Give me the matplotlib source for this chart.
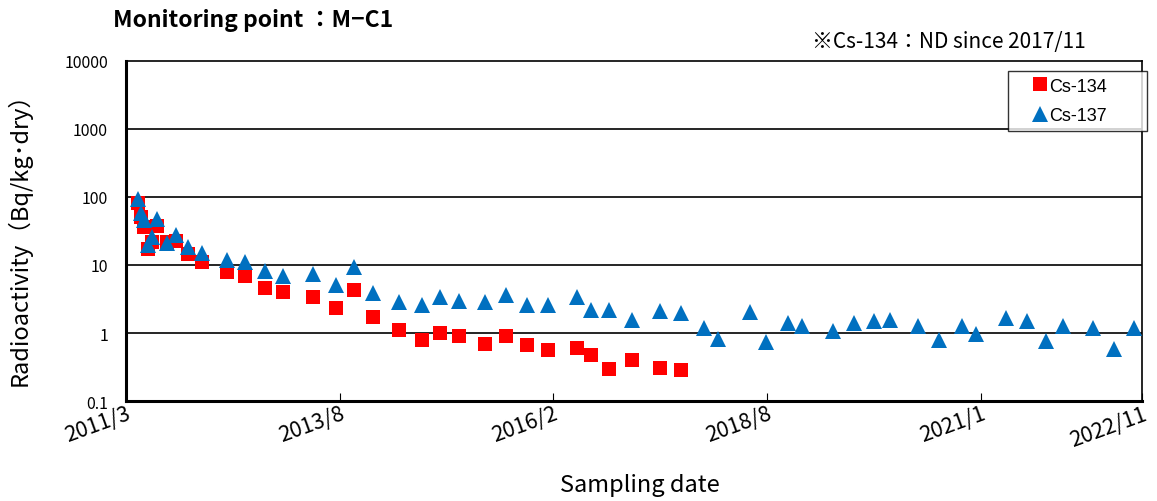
import matplotlib
matplotlib.use("Agg")
import matplotlib.pyplot as plt
import pandas as pd

plt.rcParams['font.family'] = ['Noto Sans CJK JP', 'DejaVu Sans']

cs134_dates = [
    "2011-05-02", "2011-05-13", "2011-05-27", "2011-06-13", "2011-06-27", "2011-07-18",
    "2011-08-29", "2011-10-06", "2011-11-26", "2012-01-26", "2012-05-08", "2012-07-24",
    "2012-10-17", "2013-01-02", "2013-05-08", "2013-08-11", "2013-10-28", "2014-01-16",
    "2014-05-04", "2014-08-08", "2014-10-24", "2015-01-12", "2015-05-03", "2015-07-29",
    "2015-10-26", "2016-01-24", "2016-05-22", "2016-07-20", "2016-10-07", "2017-01-12",
    "2017-05-08", "2017-08-03",
]
cs134_values = [
    81, 50, 36, 17, 21.6, 38,
    21.6, 22.8, 14.5, 11, 8.0, 7.0,
    4.6, 4.05, 3.4, 2.33, 4.3, 1.74,
    1.1, 0.79, 1.0, 0.9, 0.70, 0.89,
    0.67, 0.56, 0.61, 0.48, 0.30, 0.40,
    0.31, 0.29,
]

cs137_dates = cs134_dates + [
    "2017-11-10", "2018-01-06", "2018-05-23", "2018-07-29", "2018-10-31", "2018-12-29",
    "2019-05-06", "2019-08-05", "2019-10-27", "2019-12-31", "2020-04-27", "2020-07-27",
    "2020-11-02", "2020-12-30", "2021-05-04", "2021-08-01", "2021-10-20", "2021-12-29",
    "2022-05-08", "2022-08-01", "2022-10-24",
]
cs137_values = [
    94, 58, 46, 19.7, 26, 47,
    21, 27.6, 18.6, 15, 12, 11,
    8.2, 7.0, 7.4, 5.0, 9.3, 3.9,
    2.83, 2.6, 3.35, 3.0, 2.9, 3.6,
    2.6, 2.6, 3.35, 2.18, 2.18, 1.57,
    2.08, 1.97,
    1.17, 0.82, 2.06, 0.73, 1.39, 1.28,
    1.08, 1.39, 1.49, 1.57, 1.28, 0.80,
    1.28, 0.97, 1.66, 1.49, 0.77, 1.28,
    1.17, 0.58, 1.17,
]

tick_dates = ["2011-03-11", "2013-08-28", "2016-02-14", "2018-08-02", "2021-01-19", "2022-11-29"]
tick_labels = ["2011/3", "2013/8", "2016/2", "2018/8", "2021/1", "2022/11"]
y_ticks = [0.1, 1, 10, 100, 1000, 10000]
y_tick_labels = ["0.1", "1", "10", "100", "1000", "10000"]

fig = plt.figure(figsize=(11.57, 5.02), dpi=100)
ax = fig.add_axes([0.1089, 0.1992, 0.8782, 0.6773])

ax.set_yscale('log')
ax.set_ylim(0.1, 10000)
ax.set_xlim(pd.Timestamp(tick_dates[0]), pd.Timestamp(tick_dates[-1]))

for y in y_ticks[1:-1]:
    ax.axhline(y, color='black', linewidth=1.2, zorder=1)

ax.plot(pd.to_datetime(cs134_dates), cs134_values, linestyle='none', marker='s',
        markersize=9.5, color='#FF0000', markeredgewidth=0, label='Cs-134', zorder=3)
ax.plot(pd.to_datetime(cs137_dates), cs137_values, linestyle='none', marker='^',
        markersize=11, color='#0070C0', markeredgewidth=0, label='Cs-137', zorder=4)

ax.set_yticks(y_ticks)
ax.set_yticklabels(y_tick_labels, fontsize=11.5)
ax.yaxis.set_minor_locator(matplotlib.ticker.NullLocator())
ax.tick_params(axis='y', length=0, pad=13)

ax.set_xticks(pd.to_datetime(tick_dates))
ax.set_xticklabels(tick_labels, fontsize=15.5, rotation=20, ha='right', rotation_mode='anchor')
ax.tick_params(axis='x', direction='in', length=6, pad=1)

for side in ['left', 'bottom']:
    ax.spines[side].set_linewidth(2.2)
for side in ['top', 'right']:
    ax.spines[side].set_linewidth(1.2)

ax.set_xlabel("Sampling date", fontsize=17, va='top')
ax.xaxis.set_label_coords(0.506, -0.212)
ax.set_ylabel("Radioactivity（Bq/kg･dry）", fontsize=17)
ax.yaxis.set_label_coords(-0.093, 0.495)

leg = ax.legend(loc='upper left', bbox_to_anchor=(0.868, 0.788, 0.137, 0.182), mode='expand',
                frameon=True, fancybox=False, edgecolor='black', numpoints=1,
                handlelength=2.8, handletextpad=-0.9, borderpad=0.36, labelspacing=0.7,
                borderaxespad=0, prop={'family': 'Liberation Sans', 'size': 13})
leg.get_frame().set_linewidth(1.0)

fig.text(113/1157, 1 - 21/502, "Monitoring point ：M−C1", fontsize=16.5, fontweight='bold',
         ha='left', va='center')
fig.text(812/1157, 1 - 42/502, "※Cs-134：ND since 2017/11", fontsize=15,
         ha='left', va='center')

fig.savefig("out.png", dpi=100)
